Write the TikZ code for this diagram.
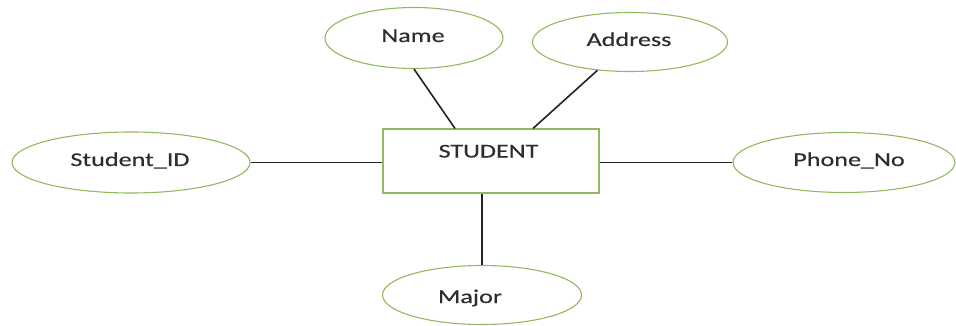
\documentclass[tikz,border=0pt]{standalone}
\usepackage{fontspec}
\setmainfont[FakeStretch=1.34,FakeBold=0.4]{Carlito}
\usetikzlibrary{shapes.geometric}
\definecolor{attrgreen}{RGB}{146,185,96}
\definecolor{linkgray}{RGB}{35,35,35}
\definecolor{txtgray}{RGB}{45,45,45}
\begin{document}
\begin{tikzpicture}[x=1pt,y=-1pt,
  attr/.style={ellipse, draw=attrgreen, line width=1.1pt, inner sep=0pt},
  entity/.style={rectangle, draw=attrgreen, line width=1.1pt, inner sep=0pt},
  lbl/.style={anchor=base, text=txtgray, inner sep=0pt, font=\fontsize{19.5}{24}\selectfont},
  link/.style={draw=linkgray, line width=1.6pt}]
  \useasboundingbox (0,0) rectangle (956,326);

  % entity
  \node[entity, minimum width=216pt, minimum height=64pt] (student) at (491,161) {};
  \node[lbl] (studentt) at (488.5,157.5) {STUDENT};

  % attributes
  \node[attr, minimum width=178pt, minimum height=61pt] (name) at (414,38) {};
  \node[lbl] (namet) at (413,42) {Name};
  \node[attr, minimum width=195pt, minimum height=59pt] (address) at (630,42) {};
  \node[lbl] (addresst) at (629,46) {Address};
  \node[attr, minimum width=238pt, minimum height=61pt] (sid) at (131,162.5) {};
  \node[lbl] (sidt) at (130,166) {Student\_ID};
  \node[attr, minimum width=222pt, minimum height=60pt] (phone) at (844,162.5) {};
  \node[lbl] (phonet) at (849,166) {Phone\_No};
  \node[attr, minimum width=199pt, minimum height=59pt] (major) at (482,295) {};
  \node[lbl] (majort) at (470,303) {Major};

  % relationships
  \draw[link] (name.south) -- ([xshift=-36pt]student.north);
  \draw[link] (address.221) -- ([xshift=42pt]student.north);
  \draw[link] (sid.east) -- (sid.east -| student.west);
  \draw[link] (phone.west) -- (phone.west -| student.east);
  \draw[link] (major.north) -- (major.north |- student.south);
\end{tikzpicture}
\end{document}
